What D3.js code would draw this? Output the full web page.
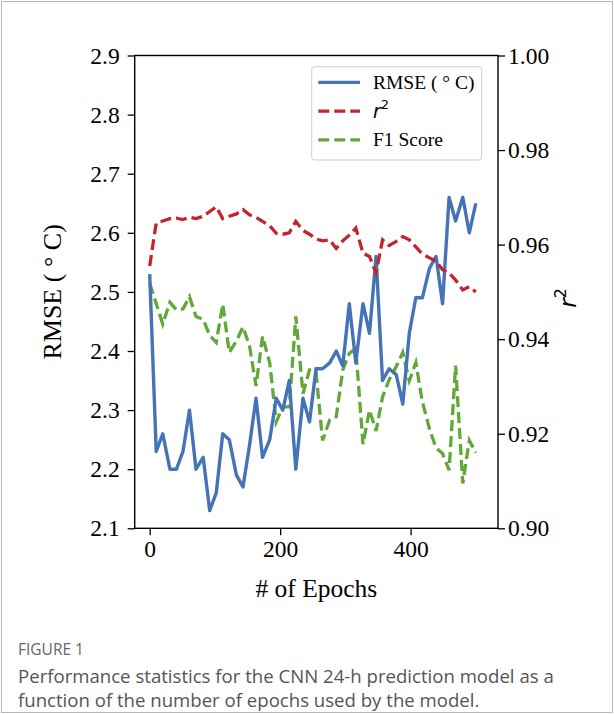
<!DOCTYPE html>
<html>
<head>
<meta charset="utf-8">
<script src="https://cdn.jsdelivr.net/npm/d3@7"></script>
<style>
  body { margin: 0; background: #fff; }
  svg { display: block; }
</style>
</head>
<body>
<div id="chart"></div>
<script>
// epochs (50 checkpoints from 0 to 500)
const epochs = [0, 10, 20, 31, 41, 51, 61, 71, 82, 92, 102, 112, 122, 133, 143, 153, 163, 173, 184, 194,
                204, 214, 224, 235, 245, 255, 265, 276, 286, 296, 306, 316, 327, 337, 347, 357, 367, 378, 388, 398,
                408, 418, 429, 439, 449, 459, 469, 480, 490, 500];

const rmse = [2.53, 2.23, 2.26, 2.20, 2.20, 2.23, 2.30, 2.20, 2.22, 2.13, 2.16, 2.26, 2.25, 2.19, 2.17, 2.24, 2.32, 2.22, 2.25, 2.32,
              2.30, 2.35, 2.20, 2.32, 2.28, 2.37, 2.37, 2.38, 2.40, 2.375, 2.48, 2.38, 2.48, 2.43, 2.56, 2.35, 2.37, 2.36, 2.31, 2.43,
              2.49, 2.49, 2.54, 2.56, 2.48, 2.66, 2.62, 2.66, 2.60, 2.65];

const r2 = [0.9555, 0.9646, 0.9650, 0.9655, 0.9656, 0.9653, 0.9658, 0.9655, 0.9660, 0.9670, 0.9680, 0.9655, 0.9660, 0.9665, 0.9674, 0.9663, 0.9658, 0.9649, 0.9640, 0.9624,
            0.9622, 0.9625, 0.9649, 0.9630, 0.9622, 0.9612, 0.9608, 0.9610, 0.9592, 0.9608, 0.9620, 0.9635, 0.9582, 0.9575, 0.9540, 0.9610, 0.9598, 0.9607, 0.9617, 0.9610,
            0.9595, 0.9580, 0.9572, 0.9565, 0.9547, 0.9540, 0.9525, 0.9504, 0.9511, 0.9500];

const f1 = [0.9518, 0.9475, 0.9432, 0.9478, 0.9462, 0.9464, 0.9490, 0.9448, 0.9442, 0.9408, 0.9393, 0.9474, 0.9372, 0.9396, 0.9426, 0.9386, 0.9301, 0.9406, 0.9350, 0.9225,
            0.9257, 0.9257, 0.9448, 0.9285, 0.9335, 0.9330, 0.9186, 0.9229, 0.9236, 0.9335, 0.9370, 0.9380, 0.9178, 0.9250, 0.9206, 0.9278, 0.9314, 0.9342, 0.9372, 0.9312,
            0.9350, 0.9268, 0.9210, 0.9170, 0.9158, 0.9123, 0.9344, 0.9095, 0.9186, 0.9160];

const xTicks = [0, 200, 400];
const leftTicks = [2.1, 2.2, 2.3, 2.4, 2.5, 2.6, 2.7, 2.8, 2.9];
const rightTicks = [0.90, 0.92, 0.94, 0.96, 0.98, 1.00];

const W = 614, H = 714;
const plot = {left: 134.7, right: 498, top: 55.5, bottom: 528.3};
const serif = "'Liberation Serif', 'Times New Roman', serif";
const sans = "'Open Sans', Lato, sans-serif";

const colors = {rmse: '#4574b6', r2: '#c2252c', f1: '#62a838'};

const svg = d3.select('#chart').append('svg')
    .attr('width', W).attr('height', H);

// card border
svg.append('rect')
    .attr('x', 1.5).attr('y', 1.5)
    .attr('width', W - 3).attr('height', H - 3)
    .attr('fill', '#fff').attr('stroke', '#b8b8b8').attr('stroke-width', 1);

const xScale = d3.scaleLinear().domain([-23, 534]).range([plot.left, plot.right]);
const yLeft = d3.scaleLinear().domain([2.1, 2.9]).range([plot.bottom, plot.top]);
const yRight = d3.scaleLinear().domain([0.90, 1.00]).range([plot.bottom, plot.top]);

const styleAxis = g => {
    g.select('.domain').remove();
    g.selectAll('line').attr('stroke', '#000').attr('stroke-width', 1.3);
    g.selectAll('text').attr('font-family', serif).attr('font-size', 23.5).attr('fill', '#000');
};

svg.append('g')
    .attr('transform', `translate(0,${plot.bottom})`)
    .call(d3.axisBottom(xScale).tickValues(xTicks).tickSize(7).tickPadding(5).tickFormat(d3.format('d')))
    .call(styleAxis);

svg.append('g')
    .attr('transform', `translate(${plot.left},0)`)
    .call(d3.axisLeft(yLeft).tickValues(leftTicks).tickSize(7).tickPadding(8).tickFormat(d3.format('.1f')))
    .call(styleAxis);

svg.append('g')
    .attr('transform', `translate(${plot.right},0)`)
    .call(d3.axisRight(yRight).tickValues(rightTicks).tickSize(7).tickPadding(3).tickFormat(d3.format('.2f')))
    .call(styleAxis);

// lines
const lineLeft = d3.line().x((d, i) => xScale(epochs[i])).y(d => yLeft(d));
const lineRight = d3.line().x((d, i) => xScale(epochs[i])).y(d => yRight(d));

svg.append('path').datum(f1)
    .attr('d', lineRight).attr('fill', 'none')
    .attr('stroke', colors.f1).attr('stroke-width', 3.3).attr('stroke-dasharray', '11,5');

svg.append('path').datum(rmse)
    .attr('d', lineLeft).attr('fill', 'none')
    .attr('stroke', colors.rmse).attr('stroke-width', 3.4).attr('stroke-linejoin', 'round');

svg.append('path').datum(r2)
    .attr('d', lineRight).attr('fill', 'none')
    .attr('stroke', colors.r2).attr('stroke-width', 3.3).attr('stroke-dasharray', '11,5');

// frame
svg.append('rect')
    .attr('x', plot.left).attr('y', plot.top)
    .attr('width', plot.right - plot.left).attr('height', plot.bottom - plot.top)
    .attr('fill', 'none').attr('stroke', '#000').attr('stroke-width', 1.4);

// axis labels
svg.append('text')
    .attr('transform', `translate(61,${(plot.top + plot.bottom) / 2}) rotate(-90)`)
    .attr('text-anchor', 'middle')
    .attr('font-family', serif).attr('font-size', 26)
    .text('RMSE ( \u00b0 C)');

const r2Label = svg.append('text')
    .attr('transform', `translate(576,${(plot.top + plot.bottom) / 2 + 6}) rotate(-90)`)
    .attr('text-anchor', 'middle')
    .attr('font-family', "'DejaVu Sans', sans-serif").attr('font-size', 23);
r2Label.append('tspan').attr('font-style', 'italic').text('r');
r2Label.append('tspan').attr('font-size', 16).attr('dy', -10).text('2');

svg.append('text')
    .attr('x', (plot.left + plot.right) / 2).attr('y', 597)
    .attr('text-anchor', 'middle')
    .attr('font-family', serif).attr('font-size', 25.5)
    .text('# of Epochs');

// legend
const legend = svg.append('g');
legend.append('rect')
    .attr('x', 311.7).attr('y', 66.7).attr('width', 170).attr('height', 93.3).attr('rx', 3)
    .attr('fill', '#fff').attr('fill-opacity', 0.85).attr('stroke', '#d0d0d0').attr('stroke-width', 1);

const legendItems = [
    {label: 'RMSE ( \u00b0 C)', color: colors.rmse, dash: null},
    {label: 'r2', color: colors.r2, dash: '11,5'},
    {label: 'F1 Score', color: colors.f1, dash: '11,5'}
];
legendItems.forEach((d, i) => {
    const y = 82.3 + i * 28.8;
    legend.append('line')
        .attr('x1', 318.3).attr('x2', 360).attr('y1', y).attr('y2', y)
        .attr('stroke', d.color).attr('stroke-width', 3.3)
        .attr('stroke-dasharray', d.dash);
    if (d.label === 'r2') {
        const t = legend.append('text').attr('x', 373).attr('y', y + 7)
            .attr('font-family', "'DejaVu Sans', sans-serif").attr('font-size', 19);
        t.append('tspan').attr('font-style', 'italic').text('r');
        t.append('tspan').attr('font-size', 13).attr('dy', -9).text('2');
    } else {
        legend.append('text').attr('x', 373).attr('y', y + 6.5)
            .attr('font-family', serif).attr('font-size', 19.5)
            .text(d.label);
    }
});

// caption
svg.append('text')
    .attr('x', 18).attr('y', 655)
    .attr('font-family', sans).attr('font-size', 15.5).attr('fill', '#666')
    .text('FIGURE 1');
const captionLines = [
    'Performance statistics for the CNN 24-h prediction model as a',
    'function of the number of epochs used by the model.'
];
captionLines.forEach((line, i) => {
    svg.append('text')
        .attr('x', 18).attr('y', 683 + i * 24)
        .attr('font-family', sans).attr('font-size', 18.6).attr('fill', '#555')
        .text(line);
});
</script>
</body>
</html>
